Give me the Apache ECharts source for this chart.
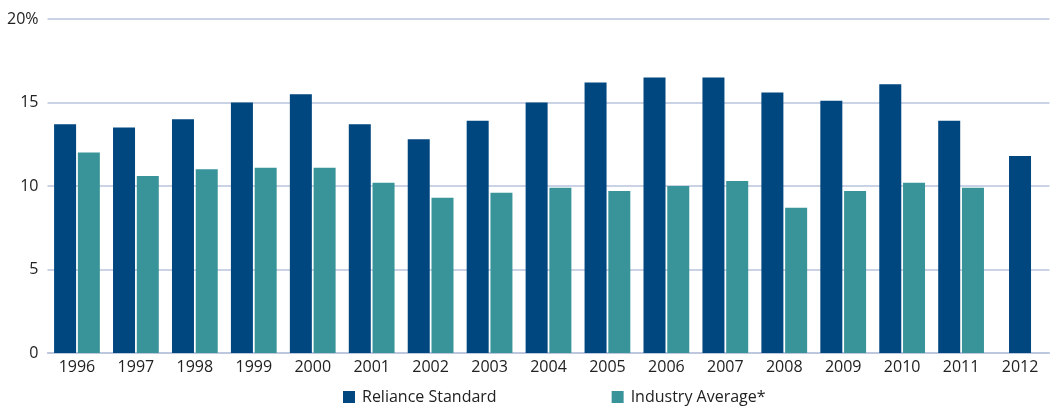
<!DOCTYPE html>
<html><head><meta charset="utf-8">
<script src="https://cdn.jsdelivr.net/npm/echarts@6/dist/echarts.min.js"></script>
<style>html,body{margin:0;padding:0;background:#fff}#c{width:1050px;height:407px}</style>
</head><body><div id="c"></div>
<script>
const years = ['1996','1997','1998','1999','2000','2001','2002','2003','2004','2005','2006','2007','2008','2009','2010','2011','2012'];
const reliance = [13.7,13.5,14.0,15.0,15.5,13.7,12.8,13.9,15.0,16.2,16.5,16.5,15.6,15.1,16.1,13.9,11.8];
const industry = [12.0,10.6,11.0,11.1,11.1,10.2,9.3,9.6,9.9,9.7,10.0,10.3,8.7,9.7,10.2,9.9,null];
const yTicks = [0,5,10,15,20];

// Years with both series go in the paired series; years with only one value are drawn centered
const pairedR = reliance.map((v,i)=> industry[i]==null ? null : v);
const soloR = reliance.map((v,i)=> industry[i]==null ? v : null);

const navy = '#00467f', teal = '#39949a';
const font = "'Open Sans', 'Noto Sans', sans-serif";
const chart = echarts.init(document.getElementById('c'));
chart.setOption({
  animation:false,
  textStyle:{fontFamily:font},
  grid:{left:47.5,right:0.5,top:19,bottom:54,containLabel:false},
  legend:{
    data:['Reliance Standard','Industry Average*'],
    top:384,left:338,itemWidth:12,itemHeight:12,itemGap:115,icon:'rect',
    textStyle:{fontSize:16,color:'#222',fontFamily:font,padding:[0,0,0,2]}
  },
  xAxis:[{
    type:'category',data:years,
    axisLine:{lineStyle:{color:'#b9c5dc',width:1.5}},axisTick:{show:false},
    axisLabel:{fontSize:16,color:'#222',margin:6,interval:0}
  },{
    type:'category',data:years,show:false
  }],
  yAxis:{
    type:'value',min:0,max:20,interval:5,
    axisLine:{show:false},axisTick:{show:false},
    splitLine:{lineStyle:{color:'#b9c5dc',width:1.5}},
    axisLabel:{fontSize:16,color:'#222',margin:9,
      formatter:v=> yTicks.indexOf(v)>=0 ? (v===20?'20%':String(v)) : ''}
  },
  series:[
    {name:'Reliance Standard',type:'bar',data:pairedR,barWidth:22,barGap:'8%',itemStyle:{color:navy}},
    {name:'Industry Average*',type:'bar',data:industry,barWidth:22,barGap:'8%',itemStyle:{color:teal}},
    {name:'Reliance Standard',type:'bar',xAxisIndex:1,data:soloR,barWidth:22,itemStyle:{color:navy}}
  ]
});
</script></body></html>
